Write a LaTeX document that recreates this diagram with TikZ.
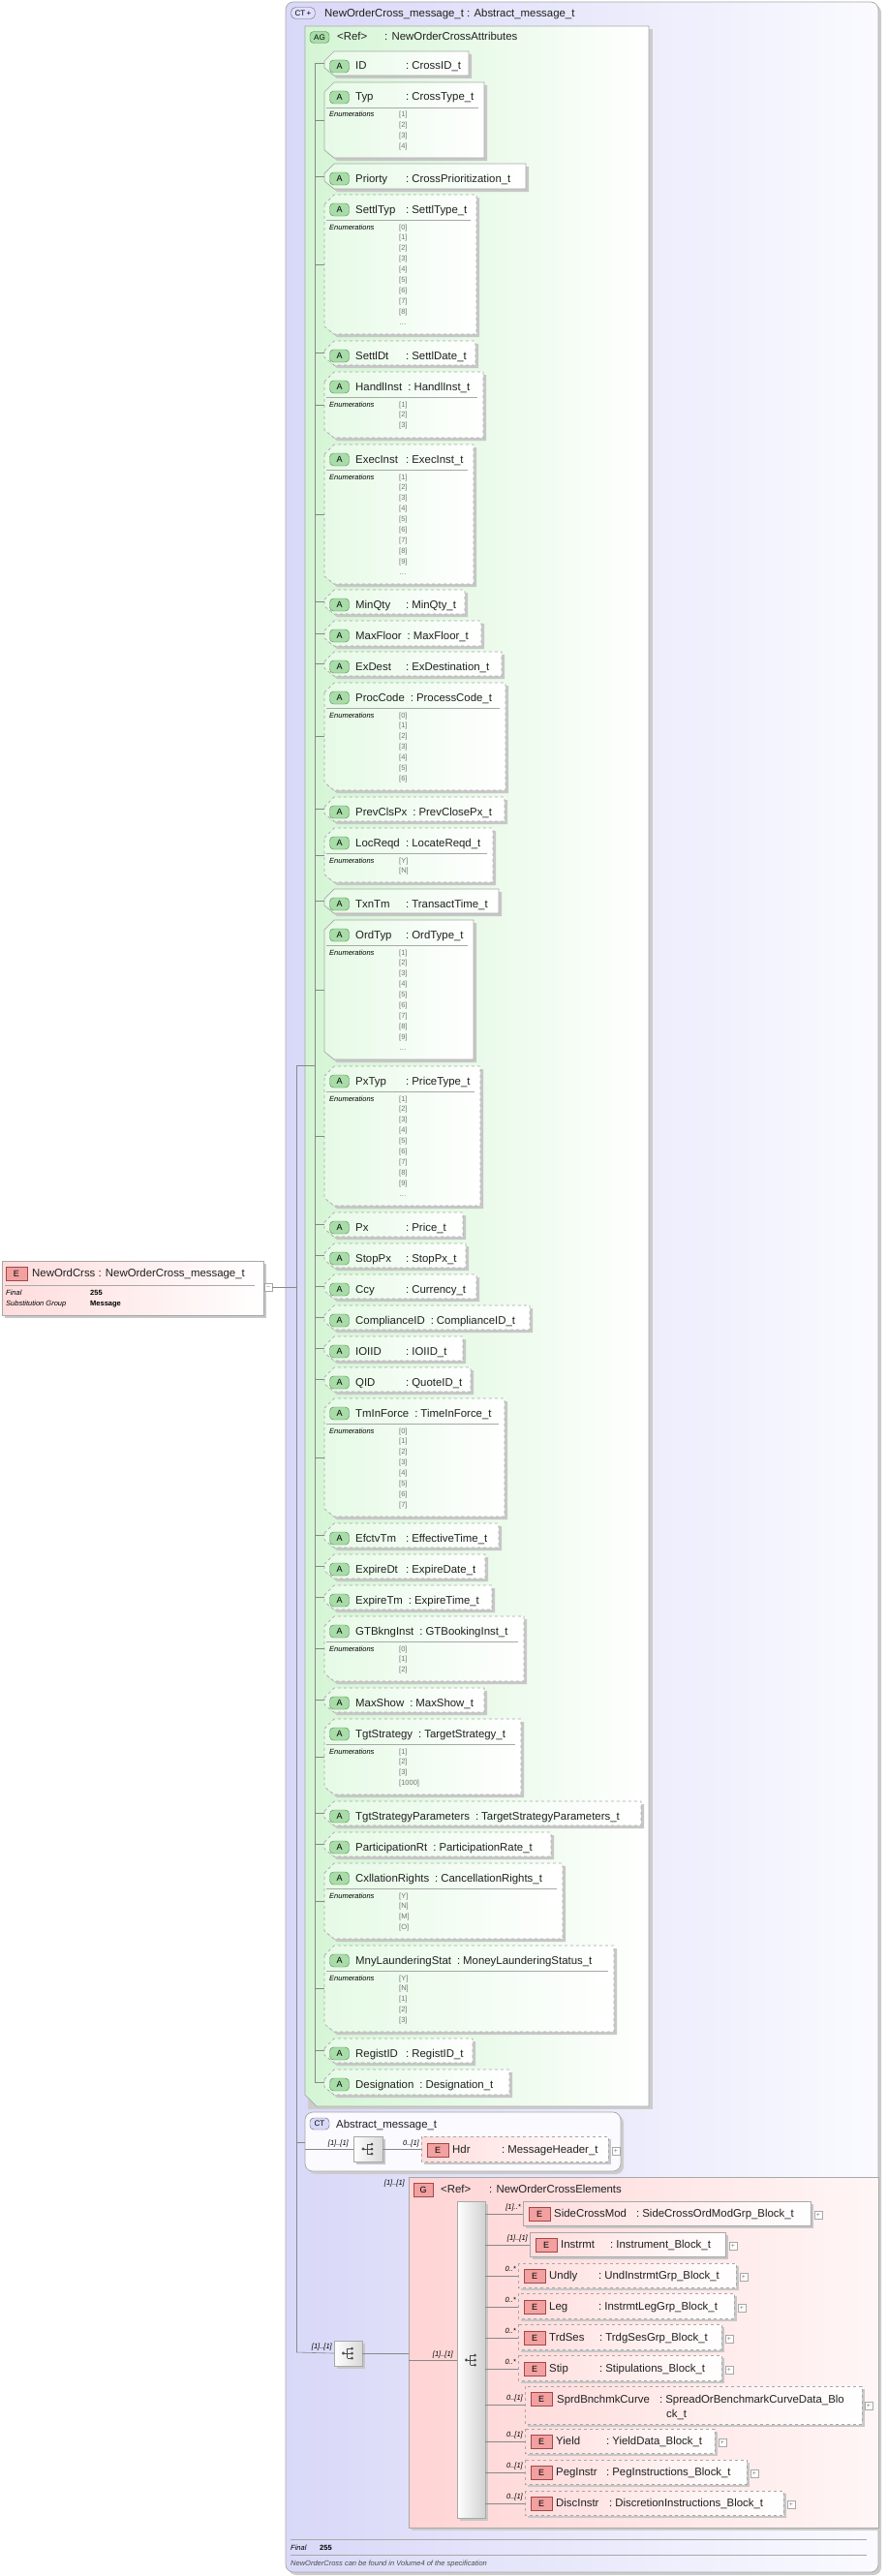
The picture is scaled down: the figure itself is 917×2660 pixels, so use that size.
\documentclass[tikz,border=0pt]{standalone}
\usepackage{fontspec}
\setmainfont{Liberation Sans}
\definecolor{ctL}{HTML}{D8D8F8}\definecolor{ctR}{HTML}{FAFAFF}
\definecolor{agL}{HTML}{D4F5D4}\definecolor{atL}{HTML}{E6FAE6}
\definecolor{aic}{HTML}{A8DCA8}\definecolor{aicb}{HTML}{4E8A4E}
\definecolor{eL}{HTML}{FFDCDC}\definecolor{eic}{HTML}{F2A0A0}\definecolor{eicb}{HTML}{A04848}
\definecolor{gL}{HTML}{FFD4D4}\definecolor{gR}{HTML}{FFF6F6}
\definecolor{bd}{HTML}{A8A8A8}\definecolor{ln}{HTML}{888888}\definecolor{txt}{HTML}{202020}
\newcommand\nmx[2]{\sbox0{#1}\ifdim\wd0<46pt\makebox[52pt][l]{#1}\else\usebox0\hspace{6pt}\fi:\hspace{3pt}#2}
\tikzset{
 conn/.style={draw=ln,line width=0.6pt},
 abox/.style={draw=bd,line width=0.7pt,left color=atL,right color=white},
 shd/.style={fill=black!22},
 aicon/.style={draw=aicb,fill=aic,rounded corners=4pt,minimum width=20pt,minimum height=13pt,inner sep=0pt,font=\fontsize{9}{10}\selectfont},
 eicon/.style={draw=eicb,fill=eic,minimum width=22pt,minimum height=14pt,inner sep=0pt,font=\fontsize{9}{10}\selectfont},
 lab/.style={anchor=base west,inner sep=0pt,text=txt,font=\fontsize{11.4}{13}\selectfont},
 card/.style={anchor=base east,inner sep=0pt,font=\fontsize{7.5}{8}\itshape},
 enum/.style={anchor=base west,inner sep=0pt,text=black!55,font=\fontsize{7.5}{8}\selectfont},
 ebox/.style={draw=bd,line width=0.7pt,left color=eL,right color=white},
 plus/.style={draw=bd,fill=white,minimum size=8pt,inner sep=0pt,font=\fontsize{7}{7}\selectfont,text=black!50},
}
\newcommand\attr[8]{%
 \fill[shd] (338,#4+13) -- (348,#4+3) -- (#6+3,#4+3) -- (#6+3,#5+3) -- (348,#5+3) -- (338,#5-5) -- cycle;
 \draw[abox,#7] (335,#4+10) -- (345,#4) -- (#6,#4) -- (#6,#5) -- (345,#5) -- (335,#5-8) -- cycle;
 \node[aicon] (#1i) at (350.5,#4+15.5) {A};
 \node[lab] (#1) at (367,#4+19) {\nmx{#2}{#3}};
 \draw[conn] (325,{(#4+#5)/2}) -- (335,{(#4+#5)/2});
 \if\relax\detokenize{#8}\relax\else
  \draw[bd,line width=0.6pt] (337,#4+26) -- (#6-6,#4+26);
  \node[enum,font=\fontsize{7.5}{8}\itshape,text=black] at (340,#4+36) {Enumerations};
  \foreach \v [count=\i from 0] in {#8} {\node[enum] at (412,#4+36+10.9*\i) {\v};}
 \fi}
\newcommand\elem[9]{%
 \fill[shd] (#6+3,#4+3) rectangle (#7+3,#5+3);
 \draw[ebox,#8] (#6,#4) rectangle (#7,#5);
 \node[eicon] (#1i) at (#6+17,{(#4+#5)/2+1}) {E};
 \node[lab] (#1) at (#6+32,{(#4+#5)/2+4}) {#2};
 \node[lab] (#1t) at (#9,{(#4+#5)/2+4}) {:\hspace{3pt}#3};
 \node[plus] (#1p) at (#7+8,{(#4+#5)/2+2}) {+};}
\newcommand\seqicon[1]{%
 \fill[black!70] (#1) ++(-5,0) circle (1.6pt);
 \draw[black!70,line width=0.8pt] (#1) ++(-5,0) -- ++(4,0) (#1) ++(-1,-5) -- ++(0,10) (#1) ++(-1,-5) -- ++(4,0) (#1) ++(-1,0) -- ++(4,0) (#1) ++(-1,5) -- ++(4,0);
 \fill[black!70] (#1) ++(4,-5) circle (1.5pt) (#1) ++(4,0) circle (1.5pt) (#1) ++(4,5) circle (1.5pt);}
\begin{document}
\begin{tikzpicture}[x=1pt,y=-1pt]
\useasboundingbox (0,0) rectangle (917,2660);
\fill[black!20,rounded corners=8pt] (298,5) rectangle (910,2659);
\draw[bd,line width=0.7pt,left color=ctL,right color=ctR,rounded corners=8pt] (295,2) rectangle (907,2656);
\node[draw=black!60,fill=ctL!70!blue!30,rounded corners=5pt,minimum width=25pt,minimum height=12pt,inner sep=0pt,font=\fontsize{8}{9}\selectfont] (cti) at (313,13.5) {CT\,+};
\node[lab] (ct) at (335,18) {NewOrderCross\_message\_t : Abstract\_message\_t};
\fill[black!20] (318,30) rectangle (674,2178);
\draw[bd,line width=0.7pt,left color=agL,right color=white] (315,27) -- (670,27) -- (670,2175) -- (327,2175) -- (315,2163) -- cycle;
\node[draw=aicb,fill=aic,rounded corners=4pt,minimum width=20pt,minimum height=12pt,inner sep=0pt,font=\fontsize{8}{9}\selectfont] (agi) at (330,38.5) {AG};
\node[lab] (ag) at (348,42) {\makebox[49pt][l]{<Ref>}: NewOrderCrossAttributes};
\draw[conn] (325,65) -- (325,2150);
\attr{a1}{ID}{CrossID\_t}{53}{78}{484}{solid}{}
\attr{a2}{Typ}{CrossType\_t}{85}{163}{500}{solid}{[1],[2],[3],[4]}
\attr{a3}{Priorty}{CrossPrioritization\_t}{169}{195}{543}{solid}{}
\attr{a4}{SettlTyp}{SettlType\_t}{201}{345}{492}{dashed}{[0],[1],[2],[3],[4],[5],[6],[7],[8],{\ldots}}
\attr{a5}{SettlDt}{SettlDate\_t}{352}{377}{491}{dashed}{}
\attr{a6}{HandlInst}{HandlInst\_t}{384}{452}{499}{dashed}{[1],[2],[3]}
\attr{a7}{ExecInst}{ExecInst\_t}{459}{603}{489}{dashed}{[1],[2],[3],[4],[5],[6],[7],[8],[9],{\ldots}}
\attr{a8}{MinQty}{MinQty\_t}{609}{634}{480}{dashed}{}
\attr{a9}{MaxFloor}{MaxFloor\_t}{641}{667}{497}{dashed}{}
\attr{a10}{ExDest}{ExDestination\_t}{673}{698}{518}{dashed}{}
\attr{a11}{ProcCode}{ProcessCode\_t}{705}{816}{522}{dashed}{[0],[1],[2],[3],[4],[5],[6]}
\attr{a12}{PrevClsPx}{PrevClosePx\_t}{823}{848}{521}{dashed}{}
\attr{a13}{LocReqd}{LocateReqd\_t}{855}{911}{509}{dashed}{[Y],[N]}
\attr{a14}{TxnTm}{TransactTime\_t}{918}{943}{515}{solid}{}
\attr{a15}{OrdTyp}{OrdType\_t}{950}{1094}{489}{solid}{[1],[2],[3],[4],[5],[6],[7],[8],[9],{\ldots}}
\attr{a16}{PxTyp}{PriceType\_t}{1101}{1245}{496}{dashed}{[1],[2],[3],[4],[5],[6],[7],[8],[9],{\ldots}}
\attr{a17}{Px}{Price\_t}{1252}{1277}{478}{dashed}{}
\attr{a18}{StopPx}{StopPx\_t}{1284}{1309}{481}{dashed}{}
\attr{a19}{Ccy}{Currency\_t}{1316}{1341}{492}{dashed}{}
\attr{a20}{ComplianceID}{ComplianceID\_t}{1348}{1373}{547}{dashed}{}
\attr{a21}{IOIID}{IOIID\_t}{1380}{1405}{478}{dashed}{}
\attr{a22}{QID}{QuoteID\_t}{1412}{1437}{486}{dashed}{}
\attr{a23}{TmInForce}{TimeInForce\_t}{1444}{1566}{521}{dashed}{[0],[1],[2],[3],[4],[5],[6],[7]}
\attr{a24}{EfctvTm}{EffectiveTime\_t}{1573}{1598}{515}{dashed}{}
\attr{a25}{ExpireDt}{ExpireDate\_t}{1605}{1630}{501}{dashed}{}
\attr{a26}{ExpireTm}{ExpireTime\_t}{1637}{1662}{508}{dashed}{}
\attr{a27}{GTBkngInst}{GTBookingInst\_t}{1669}{1736}{541}{dashed}{[0],[1],[2]}
\attr{a28}{MaxShow}{MaxShow\_t}{1743}{1768}{500}{dashed}{}
\attr{a29}{TgtStrategy}{TargetStrategy\_t}{1775}{1853}{538}{dashed}{[1],[2],[3],[1000]}
\attr{a30}{TgtStrategyParameters}{TargetStrategyParameters\_t}{1860}{1885}{662}{dashed}{}
\attr{a31}{ParticipationRt}{ParticipationRate\_t}{1892}{1917}{569}{dashed}{}
\attr{a32}{CxllationRights}{CancellationRights\_t}{1924}{2002}{581}{dashed}{[Y],[N],[M],[O]}
\attr{a33}{MnyLaunderingStat}{MoneyLaunderingStatus\_t}{2009}{2098}{634}{dashed}{[Y],[N],[1],[2],[3]}
\attr{a34}{RegistID}{RegistID\_t}{2105}{2130}{488}{dashed}{}
\attr{a35}{Designation}{Designation\_t}{2137}{2163}{526}{dashed}{}
\coordinate (j1) at (306,1100);
\coordinate (j2) at (306,2429);
\draw[conn] (j1) -- (325,1100);
\draw[conn] (j1) -- (j2);
\fill[shd] (5,1305) rectangle (275,1361);
\draw[ebox] (2,1302) rectangle (272,1358);
\node[eicon] (ri) at (17,1315) {E};
\node[lab] (root) at (33,1318) {NewOrdCrss : NewOrderCross\_message\_t};
\draw[bd] (5,1327) -- (263,1327);
\node[enum,text=black,font=\fontsize{7.5}{8}\itshape] at (6,1337) {Final};
\node[enum,text=black,font=\fontsize{7.5}{8}\bfseries] at (93,1337) {255};
\node[enum,text=black,font=\fontsize{7.5}{8}\itshape] at (6,1348) {Substitution Group};
\node[enum,text=black,font=\fontsize{7.5}{8}\bfseries] at (93,1348) {Message};
\node[plus] (rm) at (277,1329) {--};
\draw[conn] (rm.east) -- (306,1329);
\fill[black!20,rounded corners=8pt] (318,2184) rectangle (644,2245);
\draw[bd,line width=0.7pt,fill=ctR,rounded corners=8pt] (315,2181) rectangle (641,2242);
\node[draw=black!60,fill=ctL,rounded corners=4pt,minimum width=20pt,minimum height=12pt,inner sep=0pt,font=\fontsize{8}{9}\selectfont] (ct2i) at (330,2193) {CT};
\node[lab] (ct2) at (347,2197) {Abstract\_message\_t};
\draw[conn] (306,2212) -- (315,2212);
\fill[shd] (368,2209) rectangle (398,2235);
\node[draw=bd,left color=white,right color=black!15,minimum width=30pt,minimum height=26pt,inner sep=0pt] (s1) at (380,2219) {};
\seqicon{s1}
\draw[conn] (315,2219) -- (s1.west);
\node[card] at (360,2215) {[1]..[1]};
\elem{hdr}{Hdr}{MessageHeader\_t}{2206}{2232}{435}{628}{dashed}{518}
\draw[conn] (s1.east) -- (435,2219);
\node[card] at (433,2215) {0..[1]};
\fill[shd] (348,2420) rectangle (377,2446);
\node[draw=bd,left color=white,right color=black!15,minimum width=29pt,minimum height=26pt,inner sep=0pt] (s2) at (359.5,2430) {};
\seqicon{s2}
\draw[conn] (j2) -- (s2.west);
\node[card] at (343,2425) {[1]..[1]};
\fill[black!20] (425,2251) rectangle (910,2613);
\draw[bd,line width=0.7pt,left color=gL,right color=gR] (422,2248) rectangle (907,2610);
\node[eicon,minimum width=20pt] (gi) at (437,2261) {G};
\node[lab] (g) at (455,2264) {\makebox[50pt][l]{<Ref>}: NewOrderCrossElements};
\node[card] at (418,2256) {[1]..[1]};
\draw[conn] (s2.east) -- (422,2430);
\fill[shd] (475,2276) rectangle (504,2603);
\node[draw=bd,left color=white,right color=black!18,minimum width=29pt,minimum height=327pt,inner sep=0pt,anchor=north west] (bar) at (472,2273) {};
\draw[conn] (422,2437) -- (472,2437);
\node[card] at (468,2433) {[1]..[1]};
\seqicon{486.5,2437}
\elem{e1}{SideCrossMod}{SideCrossOrdModGrp\_Block\_t}{2273}{2298}{540}{837}{solid}{657}
\elem{e2}{Instrmt}{Instrument\_Block\_t}{2305}{2330}{547}{749}{solid}{630}
\elem{e3}{Undly}{UndInstrmtGrp\_Block\_t}{2337}{2362}{535}{760}{dashed}{618}
\elem{e4}{Leg}{InstrmtLegGrp\_Block\_t}{2368}{2394}{535}{758}{dashed}{618}
\elem{e5}{TrdSes}{TrdgSesGrp\_Block\_t}{2400}{2426}{535}{745}{dashed}{619}
\elem{e6}{Stip}{Stipulations\_Block\_t}{2432}{2458}{535}{745}{dashed}{619}
\fill[shd] (545,2467) rectangle (893,2506);
\draw[ebox,dashed] (542,2464) rectangle (890,2503);
\node[eicon] (e7i) at (559,2477) {E};
\node[lab] (e7) at (575,2481) {SprdBnchmkCurve};
\node[lab] (e7t) at (681,2481) {:\hspace{3pt}SpreadOrBenchmarkCurveData\_Blo};
\node[lab] (e7u) at (688,2496) {ck\_t};
\node[plus] (e7p) at (897,2484) {+};
\elem{e8}{Yield}{YieldData\_Block\_t}{2508}{2533}{542}{738}{dashed}{626}
\elem{e9}{PegInstr}{PegInstructions\_Block\_t}{2540}{2565}{542}{771}{dashed}{626}
\elem{e10}{DiscInstr}{DiscretionInstructions\_Block\_t}{2572}{2597}{542}{809}{dashed}{629}
\foreach \y/\l/\xe in {2286/[1]..*/540,2318/[1]..[1]/547,2350/0..*/535,2382/0..*/535,2414/0..*/535,2446/0..*/535,2483/0..[1]/542,2521/0..[1]/542,2553/0..[1]/542,2585/0..[1]/542}
 {\draw[conn] (501,\y) -- (\xe,\y); \node[card] at (\xe-2,\y-5) {\l};}
\draw[bd] (300,2622) -- (895,2622);
\node[enum,text=black,font=\fontsize{7.5}{8}\itshape] at (300,2633) {Final};
\node[enum,text=black,font=\fontsize{7.5}{8}\bfseries] at (330,2633) {255};
\draw[bd] (300,2638) -- (895,2638);
\node[enum,text=black!70,font=\fontsize{7.5}{8}\itshape] at (300,2649) {NewOrderCross can be found in Volume4 of the specification};
\end{tikzpicture}
\end{document}
